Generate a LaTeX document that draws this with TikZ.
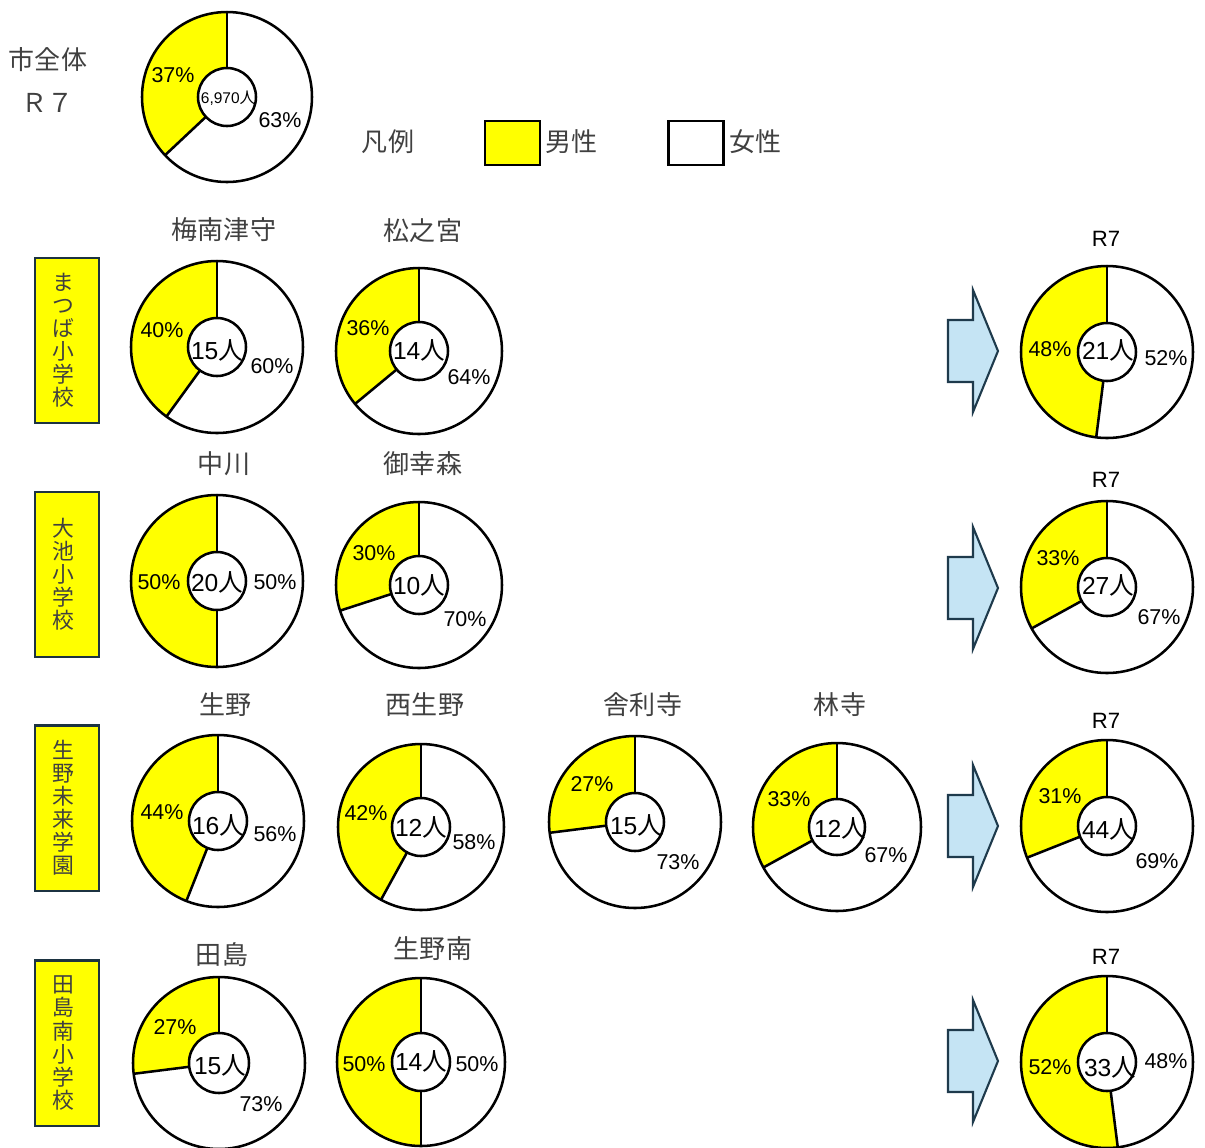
\documentclass[tikz,border=0pt]{standalone}
\usepackage{fontspec}
\setmainfont{Liberation Sans}
\newfontfamily\jp{Noto Sans CJK JP}
\usetikzlibrary{calc}
\definecolor{myyellow}{HTML}{FFFF00}
\definecolor{arrowfill}{HTML}{C5E4F4}
\definecolor{arrowline}{HTML}{1E3A4C}
\definecolor{titlegray}{HTML}{404040}
\definecolor{boxline}{HTML}{1C3341}

% #1 centre coordinate, #2 outer radius, #3 inner radius, #4 male percent
\newcommand\mydonut[4]{%
  \pgfmathsetmacro\endang{270-3.6*#4}%
  \fill[white] (#1) circle[radius=#2];
  \fill[myyellow] (#1) -- ($(#1)+(270:#2)$) arc[start angle=270,end angle=\endang,radius=#2] -- cycle;
  \draw[ring] ($(#1)+(270:#3)$) -- ($(#1)+(270:#2)$);
  \draw[ring] ($(#1)+(\endang:#3)$) -- ($(#1)+(\endang:#2)$);
  \draw[ring] (#1) circle[radius=#2];
  \draw[ring,fill=white] (#1) circle[radius=#3];
}

\begin{document}
\begin{tikzpicture}[x=0.01cm,y=-0.01cm,
  ring/.style={line width=0.72pt,black},
  pct/.style={inner sep=0,font=\fontsize{6.1pt}{7pt}\selectfont},
  cnt/.style={inner sep=0,font=\fontsize{7pt}{8pt}\selectfont},
  title/.style={inner sep=0,text=titlegray,font=\jp\fontsize{7.4pt}{9pt}\selectfont},
  rtitle/.style={inner sep=0,text=black,font=\fontsize{6.3pt}{7pt}\selectfont},
  schoolbox/.style={draw=boxline,line width=0.6pt,fill=myyellow,minimum width=0.64cm,minimum height=1.65cm,inner sep=0},
  vtext/.style={inner sep=0,align=center,text=titlegray,font=\jp\fontsize{6.2pt}{6.55pt}\selectfont},
  legbox/.style={draw=black,line width=0.72pt,minimum width=0.55cm,minimum height=0.44cm,inner sep=0},
  bigarrow/.style={draw=arrowline,fill=arrowfill,line width=0.6pt,line join=miter},
]
\useasboundingbox (0,0) rectangle (1205,1147);

% ---------- city total ----------
\node[title] (city) at (48,60) {市全体};
\node[title] (cityr) at (48,103) {Ｒ７};
\coordinate (d0) at (227,97);
\mydonut{d0}{85}{29}{37}
\node[pct] (d0m) at (173,75) {37\%};
\node[inner sep=0,font=\fontsize{4.4pt}{5pt}\selectfont] (d0c) at (228,98) {6,970{\jp 人}};
\node[pct] (d0f) at (280,120) {63\%};

% ---------- legend ----------
\node[title] (leg) at (388,142) {凡例};
\node[legbox,fill=myyellow] (legm) at (512.5,143) {};
\node[title,anchor=west] (legmt) at (545,142) {男性};
\node[legbox,fill=white] (legf) at (696,143) {};
\node[title,anchor=west] (legft) at (729,142) {女性};

% ---------- row 1 ----------
\node[schoolbox] (s1) at (67,340.5) {};
\node[vtext] (s1t) at ([xshift=-0.04cm]s1.center) {ま\\つ\\ば\\小\\学\\校};
\node[title] (t11) at (224,230) {梅南津守};
\coordinate (a1) at (217,347);
\mydonut{a1}{86}{29}{40}
\node[pct] (a1m) at (162,330) {40\%};
\node[cnt] (a1c) at (217,350) {15{\jp 人}};
\node[pct] (a1f) at (272,366) {60\%};

\node[title] (t12) at (423,231) {松之宮};
\coordinate (a2) at (419,351);
\mydonut{a2}{83}{29}{36}
\node[pct] (a2m) at (368,328) {36\%};
\node[cnt] (a2c) at (419,350) {14{\jp 人}};
\node[pct] (a2f) at (469,377) {64\%};

\coordinate (ar1) at (948,351);
\draw[bigarrow] (948,320) -- (973,320) -- (973,290) -- (998,351) -- (973,412) -- (973,382) -- (948,382) -- cycle;
\node[rtitle] (t13) at (1106,239) {R7};
\coordinate (a3) at (1107,352);
\mydonut{a3}{86}{29}{48}
\node[pct] (a3m) at (1050,349) {48\%};
\node[cnt] (a3c) at (1108,350) {21{\jp 人}};
\node[pct] (a3f) at (1166,358) {52\%};

% ---------- row 2 ----------
\node[schoolbox] (s2) at (67,574.5) {};
\node[vtext] (s2t) at ([xshift=-0.04cm]s2.center) {大\\池\\小\\学\\校};
\node[title] (t21) at (224,464) {中川};
\coordinate (b1) at (217,581);
\mydonut{b1}{86}{29}{50}
\node[pct] (b1m) at (159,582) {50\%};
\node[cnt] (b1c) at (217,582) {20{\jp 人}};
\node[pct] (b1f) at (275,582) {50\%};

\node[title] (t22) at (423,464) {御幸森};
\coordinate (b2) at (419,585);
\mydonut{b2}{83}{29}{30}
\node[pct] (b2m) at (374,553) {30\%};
\node[cnt] (b2c) at (419,585) {10{\jp 人}};
\node[pct] (b2f) at (465,619) {70\%};

\coordinate (ar2) at (948,588);
\draw[bigarrow] (948,557) -- (973,557) -- (973,527) -- (998,588) -- (973,649) -- (973,619) -- (948,619) -- cycle;
\node[rtitle] (t23) at (1106,480) {R7};
\coordinate (b3) at (1107,587);
\mydonut{b3}{86}{29}{33}
\node[pct] (b3m) at (1058,558) {33\%};
\node[cnt] (b3c) at (1108,585) {27{\jp 人}};
\node[pct] (b3f) at (1159,617) {67\%};

% ---------- row 3 ----------
\node[schoolbox] (s3) at (67,808) {};
\node[vtext] (s3t) at ([xshift=-0.04cm]s3.center) {生\\野\\未\\来\\学\\園};
\node[title] (t31) at (226,705) {生野};
\coordinate (c1) at (218,821);
\mydonut{c1}{86}{29}{44}
\node[pct] (c1m) at (162,812) {44\%};
\node[cnt] (c1c) at (218,825) {16{\jp 人}};
\node[pct] (c1f) at (275,834) {56\%};

\node[title] (t32) at (425,705) {西生野};
\coordinate (c2) at (421,827);
\mydonut{c2}{83}{29}{42}
\node[pct] (c2m) at (366,813) {42\%};
\node[cnt] (c2c) at (421,827) {12{\jp 人}};
\node[pct] (c2f) at (474,842) {58\%};

\node[title] (t33) at (643,705) {舎利寺};
\coordinate (c3) at (635,822);
\mydonut{c3}{86}{29}{27}
\node[pct] (c3m) at (592,784) {27\%};
\node[cnt] (c3c) at (636,825) {15{\jp 人}};
\node[pct] (c3f) at (678,862) {73\%};

\node[title] (t34) at (840,705) {林寺};
\coordinate (c4) at (837,827);
\mydonut{c4}{84}{28}{33}
\node[pct] (c4m) at (789,799) {33\%};
\node[cnt] (c4c) at (840,828) {12{\jp 人}};
\node[pct] (c4f) at (886,855) {67\%};

\coordinate (ar3) at (948,826);
\draw[bigarrow] (948,795) -- (973,795) -- (973,765) -- (998,826) -- (973,887) -- (973,857) -- (948,857) -- cycle;
\node[rtitle] (t35) at (1106,721) {R7};
\coordinate (c5) at (1107,826);
\mydonut{c5}{86}{29}{31}
\node[pct] (c5m) at (1060,796) {31\%};
\node[cnt] (c5c) at (1108,829) {44{\jp 人}};
\node[pct] (c5f) at (1157,861) {69\%};

% ---------- row 4 ----------
\node[schoolbox] (s4) at (67,1043) {};
\node[vtext] (s4t) at ([xshift=-0.04cm]s4.center) {田\\島\\南\\小\\学\\校};
\node[title] (t41) at (222,955) {田島};
\coordinate (e1) at (219,1063);
\mydonut{e1}{86}{30}{27}
\node[pct] (e1m) at (175,1027) {27\%};
\node[cnt] (e1c) at (220,1065) {15{\jp 人}};
\node[pct] (e1f) at (261,1104) {73\%};

\node[title] (t42) at (433,949) {生野南};
\coordinate (e2) at (421,1062);
\mydonut{e2}{84}{29}{50}
\node[pct] (e2m) at (364,1064) {50\%};
\node[cnt] (e2c) at (421,1061) {14{\jp 人}};
\node[pct] (e2f) at (477,1064) {50\%};

\coordinate (ar4) at (948,1061);
\draw[bigarrow] (948,1030) -- (973,1030) -- (973,1000) -- (998,1061) -- (973,1122) -- (973,1092) -- (948,1092) -- cycle;
\node[rtitle] (t43) at (1106,957) {R7};
\coordinate (e3) at (1107,1062);
\mydonut{e3}{86}{29}{52}
\node[pct] (e3m) at (1050,1067) {52\%};
\node[cnt] (e3c) at (1110,1067) {33{\jp 人}};
\node[pct] (e3f) at (1166,1061) {48\%};
\end{tikzpicture}
\end{document}
